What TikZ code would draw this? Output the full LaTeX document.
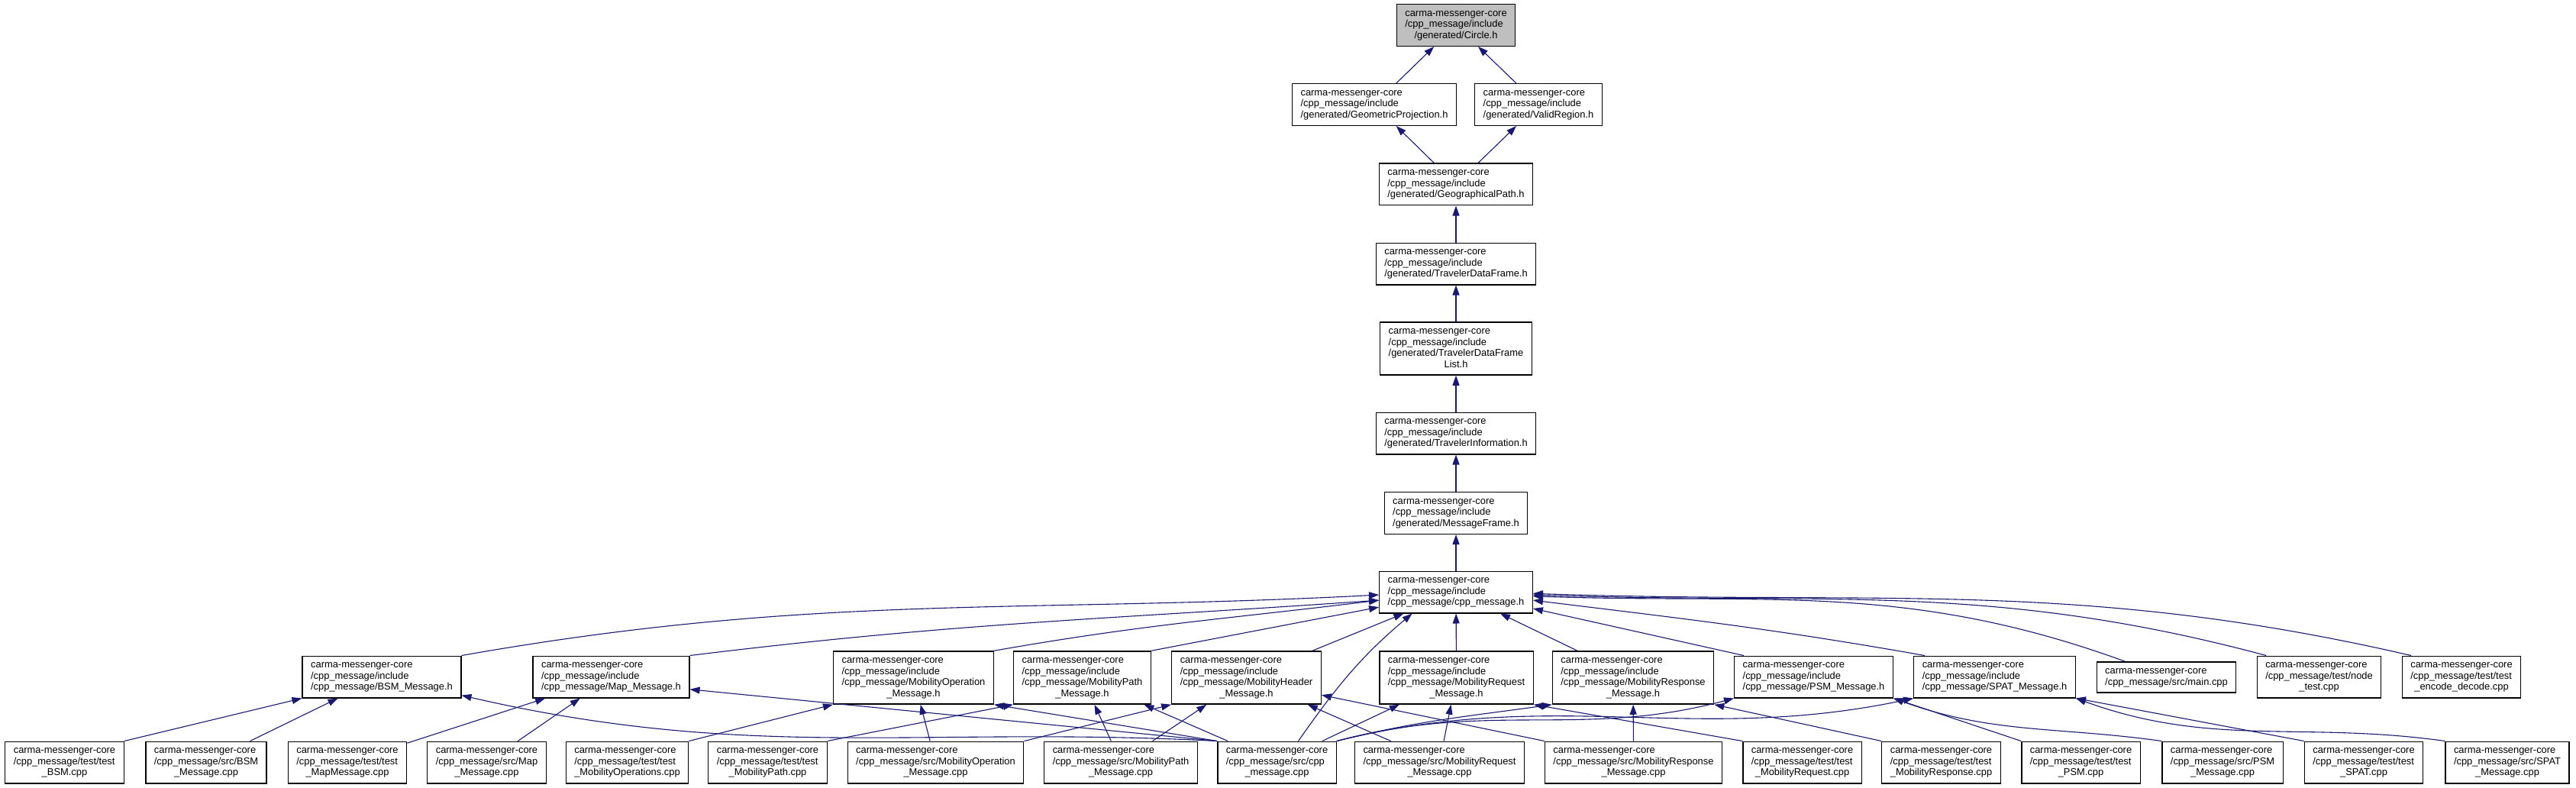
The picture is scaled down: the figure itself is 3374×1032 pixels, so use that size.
\documentclass[tikz,border=0pt]{standalone}
\usepackage{fontspec}
\newfontfamily\dotfont{Liberation Sans}
\usetikzlibrary{arrows.meta}
\definecolor{edgeblue}{HTML}{191970}
% left-aligned lines, last line centred (doxygen label)
\newcommand{\fpath}[2]{\begin{tabular}{@{}l@{}}#1\\\multicolumn{1}{@{}c@{}}{#2}\end{tabular}}

\begin{document}
\begin{tikzpicture}[x=1pt, y=1pt,
  every node/.style={font=\dotfont\fontsize{12.9}{14.5}\selectfont},
  file/.style={draw=black, fill=white, line width=1.3pt, inner xsep=11pt, inner ysep=5.6pt},
  dep/.style={draw=edgeblue, line width=1.1pt, -{Triangle[length=13pt,width=9pt]}}]
  \useasboundingbox (0,0) rectangle (3374,-1032);

  % generated headers
  \node[file, fill=black!25] (circle) at (1907,-33) {\fpath{carma-messenger-core\\/cpp\_message/include}{/generated/Circle.h}};
  \node[file] (geoproj) at (1800,-137) {\fpath{carma-messenger-core\\/cpp\_message/include}{/generated/GeometricProjection.h}};
  \node[file] (validreg) at (2015,-137) {\fpath{carma-messenger-core\\/cpp\_message/include}{/generated/ValidRegion.h}};
  \node[file] (geopath) at (1907,-241.5) {\fpath{carma-messenger-core\\/cpp\_message/include}{/generated/GeographicalPath.h}};
  \node[file] (tdf) at (1907,-345.5) {\fpath{carma-messenger-core\\/cpp\_message/include}{/generated/TravelerDataFrame.h}};
  \node[file] (tdflist) at (1907,-456.5) {\fpath{carma-messenger-core\\/cpp\_message/include\\/generated/TravelerDataFrame}{List.h}};
  \node[file] (travinfo) at (1907,-567.5) {\fpath{carma-messenger-core\\/cpp\_message/include}{/generated/TravelerInformation.h}};
  \node[file] (msgframe) at (1907,-672) {\fpath{carma-messenger-core\\/cpp\_message/include}{/generated/MessageFrame.h}};
  \node[file] (cppmsgh) at (1907,-775.5) {\fpath{carma-messenger-core\\/cpp\_message/include}{/cpp\_message/cpp\_message.h}};

  % message headers and other includers
  \node[file] (bsmh) at (500,-886.5) {\fpath{carma-messenger-core\\/cpp\_message/include}{/cpp\_message/BSM\_Message.h}};
  \node[file] (maph) at (800.5,-886.5) {\fpath{carma-messenger-core\\/cpp\_message/include}{/cpp\_message/Map\_Message.h}};
  \node[file] (mopmsgh) at (1196.5,-887.5) {\fpath{carma-messenger-core\\/cpp\_message/include\\/cpp\_message/MobilityOperation}{\_Message.h}};
  \node[file] (mpathh) at (1417.5,-887.5) {\fpath{carma-messenger-core\\/cpp\_message/include\\/cpp\_message/MobilityPath}{\_Message.h}};
  \node[file] (mheadh) at (1632.5,-887.5) {\fpath{carma-messenger-core\\/cpp\_message/include\\/cpp\_message/MobilityHeader}{\_Message.h}};
  \node[file] (mreqh) at (1907.5,-887.5) {\fpath{carma-messenger-core\\/cpp\_message/include\\/cpp\_message/MobilityRequest}{\_Message.h}};
  \node[file] (mresph) at (2139,-887.5) {\fpath{carma-messenger-core\\/cpp\_message/include\\/cpp\_message/MobilityResponse}{\_Message.h}};
  \node[file] (psmh) at (2375.5,-886.5) {\fpath{carma-messenger-core\\/cpp\_message/include}{/cpp\_message/PSM\_Message.h}};
  \node[file] (spath) at (2612.5,-886.5) {\fpath{carma-messenger-core\\/cpp\_message/include}{/cpp\_message/SPAT\_Message.h}};
  \node[file] (maincpp) at (2837.5,-887) {\fpath{carma-messenger-core}{/cpp\_message/src/main.cpp}};
  \node[file] (nodetest) at (3037.5,-886.5) {\fpath{carma-messenger-core\\/cpp\_message/test/node}{\_test.cpp}};
  \node[file] (encdec) at (3224,-886.5) {\fpath{carma-messenger-core\\/cpp\_message/test/test}{\_encode\_decode.cpp}};

  % sources and tests
  \node[file] (testbsm) at (84.5,-998.5) {\fpath{carma-messenger-core\\/cpp\_message/test/test}{\_BSM.cpp}};
  \node[file] (srcbsm) at (270,-998.5) {\fpath{carma-messenger-core\\/cpp\_message/src/BSM}{\_Message.cpp}};
  \node[file] (testmap) at (455,-998.5) {\fpath{carma-messenger-core\\/cpp\_message/test/test}{\_MapMessage.cpp}};
  \node[file] (srcmap) at (637.5,-998.5) {\fpath{carma-messenger-core\\/cpp\_message/src/Map}{\_Message.cpp}};
  \node[file] (testmop) at (821.5,-998.5) {\fpath{carma-messenger-core\\/cpp\_message/test/test}{\_MobilityOperations.cpp}};
  \node[file] (testmpath) at (1005.5,-998.5) {\fpath{carma-messenger-core\\/cpp\_message/test/test}{\_MobilityPath.cpp}};
  \node[file] (srcmop) at (1225.5,-998.5) {\fpath{carma-messenger-core\\/cpp\_message/src/MobilityOperation}{\_Message.cpp}};
  \node[file] (srcmpath) at (1468,-998.5) {\fpath{carma-messenger-core\\/cpp\_message/src/MobilityPath}{\_Message.cpp}};
  \node[file] (srccpp) at (1672.5,-998.5) {\fpath{carma-messenger-core\\/cpp\_message/src/cpp}{\_message.cpp}};
  \node[file] (srcmreq) at (1885.5,-998.5) {\fpath{carma-messenger-core\\/cpp\_message/src/MobilityRequest}{\_Message.cpp}};
  \node[file] (srcmresp) at (2139.5,-998.5) {\fpath{carma-messenger-core\\/cpp\_message/src/MobilityResponse}{\_Message.cpp}};
  \node[file] (testmreq) at (2360.5,-998.5) {\fpath{carma-messenger-core\\/cpp\_message/test/test}{\_MobilityRequest.cpp}};
  \node[file] (testmresp) at (2542.5,-998.5) {\fpath{carma-messenger-core\\/cpp\_message/test/test}{\_MobilityResponse.cpp}};
  \node[file] (testpsm) at (2725.5,-998.5) {\fpath{carma-messenger-core\\/cpp\_message/test/test}{\_PSM.cpp}};
  \node[file] (srcpsm) at (2911,-998.5) {\fpath{carma-messenger-core\\/cpp\_message/src/PSM}{\_Message.cpp}};
  \node[file] (testspat) at (3096,-998.5) {\fpath{carma-messenger-core\\/cpp\_message/test/test}{\_SPAT.cpp}};
  \node[file] (srcspat) at (3284,-998.5) {\fpath{carma-messenger-core\\/cpp\_message/src/SPAT}{\_Message.cpp}};

  % straight includes
  \foreach \a/\b in {geoproj/circle, validreg/circle, geopath/geoproj, geopath/validreg,
      tdf/geopath, tdflist/tdf, travinfo/tdflist, msgframe/travinfo, cppmsgh/msgframe,
      mheadh/cppmsgh, mreqh/cppmsgh, mresph/cppmsgh,
      srcbsm/bsmh, testmap/maph, srcmap/maph, srcmop/mopmsgh,
      srcmpath/mpathh, srccpp/mpathh, srcmpath/mheadh, srcmreq/mheadh,
      srccpp/mreqh, srcmreq/mreqh, srcmresp/mresph}
    \draw[dep] (\a) -- (\b);
  \foreach \a/\b in {testbsm.north east/bsmh.south west, srccpp.north west/maph.-9,
      testmop.north east/mopmsgh.south west, srccpp.north west/mopmsgh.south east,
      testmpath.north east/mpathh.south west, mpathh.north east/cppmsgh.191,
      srcmop.north east/mheadh.south west, srcmresp.north west/mheadh.-13,
      testmreq.north west/mreqh.south east, testmresp.north west/mresph.south east,
      testpsm.north west/psmh.south east, testspat.north west/spath.south east,
      psmh.163/cppmsgh.-12}
    \draw[dep] (\a) -- (\b);

  % curved includes
  \draw[dep] (bsmh.north east) .. controls +(10:470) and +(183:470) .. (cppmsgh.182);
  \draw[dep] (maph.north east) .. controls +(7:355) and +(184:355) .. (cppmsgh.186);
  \draw[dep] (mopmsgh.north east) .. controls +(10:200) and +(187:200) .. (cppmsgh.186);
  \draw[dep] (srccpp.45) .. controls +(55:87) and +(220:87) .. (cppmsgh.206);
  \draw[dep] (spath.163) .. controls +(170:204) and +(-7:204) .. (cppmsgh.-6);
  \draw[dep] (maincpp.159) .. controls +(160:306) and +(-2:306) .. (cppmsgh.-3);
  \draw[dep] (nodetest.158) .. controls +(165:377) and +(-2:377) .. (cppmsgh.-2);
  \draw[dep] (encdec.157) .. controls +(167:451) and +(-2:451) .. (cppmsgh.-1);
  \draw[dep] (srccpp.north west) .. controls +(177:388) and +(-13:388) .. (bsmh.-13);
  \draw[dep] (srccpp.north east) .. controls +(14:112) and +(188:112) .. (mresph.south west);
  \draw[dep] (srccpp.north east) .. controls +(15:205) and +(195:205) .. (psmh.south west);
  \draw[dep] (srccpp.north east) .. controls +(14:296) and +(192:296) .. (spath.south west);
  \draw[dep] (srcpsm.north west) .. controls +(172:137) and +(-20:137) .. (psmh.south east);
  \draw[dep] (srcspat.north west) .. controls +(172:189) and +(-20:189) .. (spath.south east);
\end{tikzpicture}
\end{document}
